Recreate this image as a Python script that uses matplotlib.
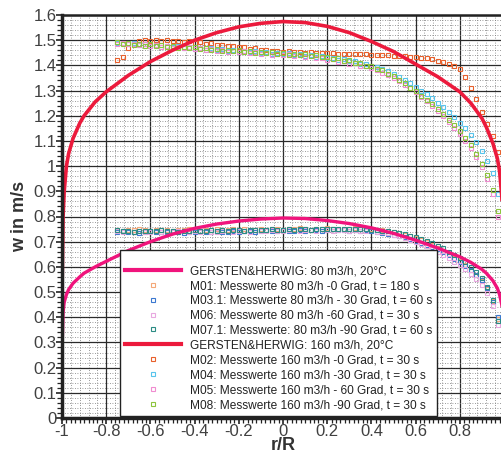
import numpy as np
import matplotlib
matplotlib.use('Agg')
import matplotlib.pyplot as plt
from matplotlib.ticker import MultipleLocator, FixedLocator, FuncFormatter
from matplotlib.lines import Line2D

plt.rcParams['font.family'] = ['Liberation Sans', 'DejaVu Sans']
plt.rcParams['axes.unicode_minus'] = False

# ---- theory curves (GERSTEN & HERWIG) ----
r_theory = [-1.0, -0.999, -0.995, -0.99, -0.98, -0.97, -0.95, -0.92, -0.9, -0.85, -0.8,
            -0.7, -0.6, -0.5, -0.4, -0.3, -0.2, -0.1, 0.0, 0.1, 0.2, 0.3, 0.4, 0.5, 0.6,
            0.7, 0.8, 0.85, 0.9, 0.92, 0.95, 0.97, 0.98, 0.99, 0.995, 0.999, 1.0]
w_gh80 = [0.0, 0.30, 0.42, 0.46, 0.49, 0.51, 0.535, 0.56, 0.575, 0.60, 0.622,
          0.665, 0.70, 0.73, 0.753, 0.77, 0.782, 0.79, 0.794, 0.792, 0.784, 0.772, 0.755,
          0.733, 0.706, 0.675, 0.64, 0.618, 0.59, 0.575, 0.545, 0.515, 0.49, 0.45, 0.40,
          0.30, 0.0]
w_gh160 = [0.0, 0.55, 0.80, 0.90, 1.00, 1.05, 1.11, 1.17, 1.20, 1.255, 1.295,
           1.36, 1.415, 1.46, 1.50, 1.53, 1.553, 1.567, 1.574, 1.570, 1.555, 1.53, 1.495,
           1.455, 1.405, 1.355, 1.295, 1.25, 1.19, 1.155, 1.09, 1.03, 0.98, 0.88, 0.78,
           0.55, 0.0]

# ---- measured values (r/R from -0.75 to 0.975 in steps of 0.025) ----
r_meas = np.round(-0.75 + 0.025 * np.arange(70), 3)

m01 = [0.747, 0.744, 0.748, 0.745, 0.749, 0.746, 0.743, 0.747, 0.745, 0.748,
       0.744, 0.747, 0.745, 0.749, 0.746, 0.744, 0.748, 0.746, 0.750, 0.747,
       0.745, 0.749, 0.747, 0.751, 0.748, 0.746, 0.750, 0.748, 0.752, 0.749,
       0.747, 0.751, 0.749, 0.753, 0.750, 0.748, 0.752, 0.750, 0.754, 0.751,
       0.749, 0.752, 0.750, 0.753, 0.751, 0.749, 0.751,
       0.748, 0.745, 0.742, 0.738, 0.733, 0.727, 0.721, 0.714, 0.706, 0.697,
       0.687, 0.676, 0.664, 0.651, 0.637, 0.622, 0.606, 0.588, 0.568, 0.545,
       0.512, 0.465, 0.395]
m03 = [0.738, 0.741, 0.737, 0.740, 0.736, 0.739, 0.742, 0.738, 0.740, 0.737,
       0.741, 0.739, 0.736, 0.740, 0.738, 0.742, 0.739, 0.737, 0.741, 0.738,
       0.740, 0.743, 0.739, 0.741, 0.744, 0.740, 0.742, 0.745, 0.741, 0.743,
       0.746, 0.742, 0.744, 0.747, 0.743, 0.745, 0.748, 0.744, 0.746, 0.749,
       0.745, 0.747, 0.744, 0.746, 0.743, 0.745, 0.742,
       0.739, 0.736, 0.732, 0.728, 0.723, 0.717, 0.711, 0.704, 0.696, 0.688,
       0.679, 0.669, 0.658, 0.646, 0.633, 0.619, 0.604, 0.587, 0.568, 0.546,
       0.515, 0.462, 0.402]
m06 = [0.741, 0.738, 0.743, 0.739, 0.742, 0.737, 0.740, 0.744, 0.739, 0.742,
       0.738, 0.741, 0.743, 0.739, 0.741, 0.737, 0.742, 0.740, 0.738, 0.743,
       0.741, 0.739, 0.744, 0.742, 0.740, 0.745, 0.743, 0.741, 0.746, 0.744,
       0.742, 0.747, 0.745, 0.743, 0.748, 0.746, 0.744, 0.749, 0.746, 0.744,
       0.747, 0.745, 0.743, 0.746, 0.744, 0.742, 0.745,
       0.740, 0.737, 0.733, 0.727, 0.721, 0.714, 0.707, 0.699, 0.690, 0.681,
       0.671, 0.660, 0.648, 0.635, 0.621, 0.606, 0.590, 0.572, 0.552, 0.528,
       0.495, 0.445, 0.370]
m07 = [0.745, 0.742, 0.744, 0.740, 0.743, 0.741, 0.744, 0.742, 0.745, 0.741,
       0.743, 0.740, 0.744, 0.742, 0.745, 0.741, 0.743, 0.745, 0.742, 0.746,
       0.743, 0.745, 0.747, 0.744, 0.746, 0.748, 0.745, 0.747, 0.749, 0.746,
       0.748, 0.750, 0.747, 0.749, 0.751, 0.748, 0.750, 0.752, 0.749, 0.751,
       0.750, 0.752, 0.750, 0.751, 0.749, 0.750, 0.748,
       0.746, 0.744, 0.741, 0.738, 0.734, 0.729, 0.724, 0.718, 0.711, 0.703,
       0.694, 0.684, 0.673, 0.661, 0.648, 0.634, 0.618, 0.600, 0.580, 0.556,
       0.522, 0.470, 0.385]

m02 = [1.420, 1.432, 1.468, 1.488, 1.497, 1.500, 1.498, 1.502, 1.497, 1.500,
       1.496, 1.498, 1.493, 1.495, 1.490, 1.492, 1.486, 1.487, 1.481, 1.482,
       1.476, 1.477, 1.471, 1.472, 1.466, 1.467, 1.462, 1.463, 1.458, 1.459,
       1.455, 1.456, 1.453, 1.454, 1.451, 1.452, 1.449, 1.450, 1.448, 1.449,
       1.446, 1.447, 1.445, 1.446, 1.444, 1.445, 1.443,
       1.442, 1.441, 1.440, 1.439, 1.438, 1.437, 1.435, 1.433, 1.431, 1.428,
       1.424, 1.419, 1.413, 1.405, 1.396, 1.384, 1.352, 1.312, 1.265, 1.215,
       1.168, 1.118, 1.055]
m04 = [1.488, 1.490, 1.484, 1.487, 1.480, 1.484, 1.477, 1.481, 1.474, 1.478,
       1.471, 1.475, 1.468, 1.472, 1.466, 1.469, 1.463, 1.467, 1.460, 1.464,
       1.458, 1.462, 1.455, 1.459, 1.452, 1.456, 1.450, 1.453, 1.447, 1.451,
       1.444, 1.448, 1.441, 1.445, 1.438, 1.442, 1.434, 1.437, 1.429, 1.431,
       1.423, 1.424, 1.416, 1.416, 1.407, 1.407, 1.398,
       1.394, 1.385, 1.376, 1.365, 1.354, 1.342, 1.329, 1.315, 1.300, 1.285,
       1.269, 1.252, 1.234, 1.215, 1.195, 1.173, 1.150, 1.124, 1.095, 1.062,
       1.022, 0.972, 0.890]
m05 = [1.485, 1.489, 1.483, 1.486, 1.479, 1.483, 1.476, 1.480, 1.473, 1.477,
       1.470, 1.474, 1.467, 1.471, 1.464, 1.468, 1.461, 1.465, 1.458, 1.462,
       1.455, 1.459, 1.452, 1.456, 1.449, 1.453, 1.446, 1.450, 1.443, 1.447,
       1.440, 1.444, 1.437, 1.441, 1.433, 1.436, 1.428, 1.431, 1.422, 1.424,
       1.415, 1.417, 1.407, 1.408, 1.398, 1.399, 1.389,
       1.381, 1.371, 1.361, 1.349, 1.337, 1.323, 1.309, 1.293, 1.276, 1.259,
       1.240, 1.220, 1.199, 1.177, 1.153, 1.127, 1.100, 1.070, 1.036, 0.996,
       0.948, 0.888, 0.800]
m08 = [1.492, 1.486, 1.489, 1.482, 1.485, 1.478, 1.483, 1.476, 1.480, 1.473,
       1.477, 1.470, 1.474, 1.467, 1.471, 1.465, 1.469, 1.462, 1.466, 1.459,
       1.463, 1.457, 1.461, 1.454, 1.458, 1.451, 1.455, 1.449, 1.452, 1.446,
       1.450, 1.443, 1.447, 1.440, 1.444, 1.437, 1.440, 1.432, 1.435, 1.426,
       1.428, 1.419, 1.420, 1.410, 1.410, 1.399, 1.398,
       1.386, 1.380, 1.366, 1.357, 1.341, 1.330, 1.312, 1.298, 1.280, 1.264,
       1.245, 1.226, 1.207, 1.185, 1.163, 1.138, 1.112, 1.082, 1.050, 1.010,
       0.965, 0.905, 0.820]

x_ticks = [-1.0, -0.8, -0.6, -0.4, -0.2, 0.0, 0.2, 0.4, 0.6, 0.8]

labels = [
    "GERSTEN&HERWIG: 80 m3/h, 20°C",
    "M01: Messwerte 80 m3/h -0 Grad, t = 180 s",
    "M03.1: Messwerte 80 m3/h - 30 Grad, t = 60 s",
    "M06: Messwerte 80 m3/h -60 Grad, t = 30 s",
    "M07.1: Messwerte: 80 m3/h -90 Grad, t = 60 s",
    "GERSTEN&HERWIG: 160 m3/h, 20°C",
    "M02: Messwerte 160 m3/h -0 Grad, t = 30 s",
    "M04: Messwerte 160 m3/h -30 Grad, t = 30 s",
    "M05: Messwerte 160 m3/h - 60 Grad, t = 30 s",
    "M08: Messwerte 160 m3/h -90 Grad, t = 30 s",
]

c_gh80 = '#f0147c'
c_gh160 = '#ec1a3c'
meas80 = [(m01, '#f4a878'), (m03, '#3c78d0'), (m06, '#e8a8e0'), (m07, '#2c8c84')]
meas160 = [(m02, '#e8602c'), (m04, '#58c4ec'), (m05, '#f08cd0'), (m08, '#8cc43c')]


def fmt(v, pos=None):
    s = ('%.2f' % v).rstrip('0').rstrip('.')
    return '0' if s in ('-0', '', '0') else s


fig = plt.figure(figsize=(5.01, 4.55), dpi=100)
ax = fig.add_axes([62/501, 37/455, 442/501, 403/455])

ax.set_xlim(-1.0, 1.0)
ax.set_ylim(0.0, 1.6)
ax.xaxis.set_major_locator(FixedLocator(x_ticks))
ax.xaxis.set_minor_locator(MultipleLocator(0.02))
ax.yaxis.set_major_locator(MultipleLocator(0.1))
ax.yaxis.set_minor_locator(MultipleLocator(0.02))
ax.xaxis.set_major_formatter(FuncFormatter(fmt))
ax.yaxis.set_major_formatter(FuncFormatter(fmt))

# grid: solid major lines, dotted fine lines
for xv in np.arange(-1.0, 1.001, 0.2):
    ax.axvline(xv, color='#2a2a2a', lw=0.9, zorder=0.5)
for xv in np.arange(-1.0, 1.001, 0.04):
    ax.axvline(xv, color='#7a7a7a', lw=0.6, ls=(0, (1, 2)), zorder=0.2)
ax.yaxis.grid(True, which='major', color='#2a2a2a', lw=0.9, ls='-', zorder=0.5)
ax.yaxis.grid(True, which='minor', color='#7a7a7a', lw=0.6, ls=(0, (1, 2)), zorder=0.2)
ax.set_axisbelow(True)

ms = 3.2
for vals, col in meas160 + meas80:
    n = min(len(vals), len(r_meas))
    ax.plot(r_meas[:n], vals[:n], ls='none', marker='s', ms=ms, mfc='none',
            mec=col, mew=0.8, zorder=3)

ax.plot(r_theory, w_gh80, color=c_gh80, lw=2.4, zorder=5, solid_capstyle='butt')
ax.plot(r_theory, w_gh160, color=c_gh160, lw=2.6, zorder=5, solid_capstyle='butt')

for s in ['left', 'bottom', 'top']:
    ax.spines[s].set_color('#222222')
    ax.spines[s].set_zorder(6)
ax.spines['left'].set_linewidth(2.5)
ax.spines['bottom'].set_linewidth(2.5)
ax.spines['top'].set_linewidth(1.8)
ax.spines['right'].set_visible(False)

ax.tick_params(which='major', direction='out', length=4, width=1.2, color='#222222',
               labelsize=12, labelcolor='#404040', pad=0)
ax.tick_params(which='minor', direction='out', length=3.5, width=0.9, color='#222222')

ax.set_xlabel('r/R', fontsize=13, fontweight='bold', color='#333333', labelpad=-1)
ax.set_ylabel('w in m/s', fontsize=13, fontweight='bold', color='#333333', labelpad=4)

handles = [Line2D([], [], color=c_gh80, lw=3)]
for vals, col in meas80:
    handles.append(Line2D([], [], ls='none', marker='s', ms=3, mfc='none', mec=col, mew=0.8))
handles.append(Line2D([], [], color=c_gh160, lw=3))
for vals, col in meas160:
    handles.append(Line2D([], [], ls='none', marker='s', ms=3, mfc='none', mec=col, mew=0.8))

leg = ax.legend(handles, labels, loc='lower left', bbox_to_anchor=(0.131, 0.004),
                fontsize=8.6, frameon=True, fancybox=False, framealpha=1,
                edgecolor='#222222', handlelength=4.7, handletextpad=0.7,
                labelspacing=0.24, borderpad=0.45, borderaxespad=0,
                title=' ', title_fontsize=5)
leg.get_frame().set_linewidth(1.0)
leg.set_zorder(10)
for t in leg.get_texts():
    t.set_color('#222222')

fig.savefig('out.png', dpi=100)
